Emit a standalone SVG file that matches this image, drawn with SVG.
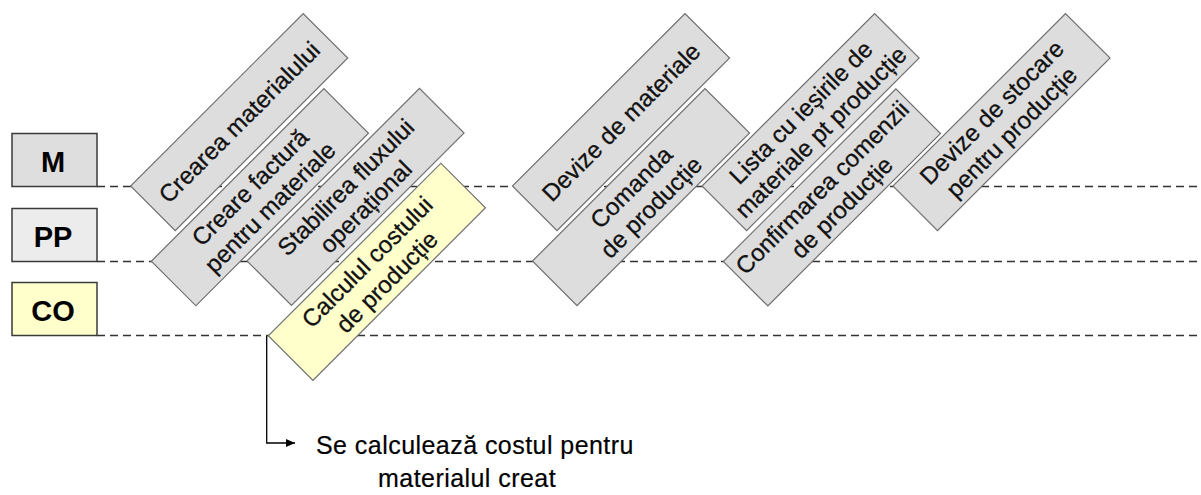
<svg xmlns="http://www.w3.org/2000/svg" width="1201" height="495" viewBox="0 0 1201 495">
<defs>
<style>
.lane{stroke:#3a3a3a;stroke-width:1.5}
.lt{font-family:"Liberation Sans",Arial,sans-serif;font-weight:bold;font-size:29px;fill:#000;text-anchor:middle}
.dash{stroke:#333;stroke-width:1.6;stroke-dasharray:8 5;fill:none}
.box{fill:#dddddd;stroke:#707070;stroke-width:1.2}
.ybox{fill:#ffffcc;stroke:#707070;stroke-width:1.2}
.bt{font-family:"Liberation Sans",Arial,sans-serif;font-size:24px;fill:#111;stroke:#111;stroke-width:0.3;text-anchor:middle}
.note{font-family:"Liberation Sans",Arial,sans-serif;font-size:25px;fill:#000;stroke:#000;stroke-width:0.2;letter-spacing:0.45px}
</style>
<marker id="arr" markerWidth="10" markerHeight="8" refX="9" refY="4" orient="auto" markerUnits="userSpaceOnUse"><path d="M0,0 L9,4 L0,8 z" fill="#000"/></marker>
</defs>
<rect width="1201" height="495" fill="#fff"/>
<g id="lanes">
<line class="dash" x1="97" y1="186.5" x2="1201" y2="186.5"/>
<line class="dash" x1="97" y1="261.5" x2="1201" y2="261.5"/>
<line class="dash" x1="97" y1="335.5" x2="1201" y2="335.5"/>
<g id="lane-M"><rect class="lane" x="12" y="133.5" width="85" height="53" fill="#dedede"/><text class="lt" x="53" y="172">M</text></g>
<g id="lane-PP"><rect class="lane" x="12" y="208.5" width="85" height="53" fill="#ececec"/><text class="lt" x="53" y="247">PP</text></g>
<g id="lane-CO"><rect class="lane" x="12" y="282.5" width="85" height="53" fill="#ffffcc"/><text class="lt" x="53" y="321">CO</text></g>
</g>
<g id="connectors">
<path d="M266.7,336 V443 H295" stroke="#000" stroke-width="1.3" fill="none" marker-end="url(#arr)"/>
</g>
<g id="n-crearea" transform="translate(239.2,122.1) rotate(-45)"><rect class="box" x="-122" y="-31.5" width="244" height="63"/><text class="bt" y="8.5">Crearea materialului</text></g>
<g id="n-factura" transform="translate(259.9,197.2) rotate(-45)"><rect class="box" x="-122" y="-31.5" width="244" height="63"/><text class="bt" y="-5.5">Creare factură</text><text class="bt" y="22.5">pentru materiale</text></g>
<g id="n-flux" transform="translate(355.5,196.9) rotate(-45)"><rect class="box" x="-122" y="-31.5" width="244" height="63"/><text class="bt" y="-5.5">Stabilirea fluxului</text><text class="bt" y="22.5">operațional</text></g>
<g id="n-calcul" transform="translate(376.9,271.8) rotate(-45)"><rect class="ybox" x="-122" y="-31.5" width="244" height="63"/><text class="bt" y="-5.5">Calculul costului</text><text class="bt" y="22.5">de producție</text></g>
<g id="n-devize-mat" transform="translate(621,122.1) rotate(-45)"><rect class="box" x="-122" y="-31.5" width="244" height="63"/><text class="bt" y="8.5">Devize de materiale</text></g>
<g id="n-comanda" transform="translate(641,197.1) rotate(-45)"><rect class="box" x="-122" y="-31.5" width="244" height="63"/><text class="bt" y="-5.5">Comanda</text><text class="bt" y="22.5">de producție</text></g>
<g id="n-lista" transform="translate(810.6,122.1) rotate(-45)"><rect class="box" x="-122" y="-31.5" width="244" height="63"/><text class="bt" y="-5.5">Lista cu ieșirile de</text><text class="bt" y="22.5">materiale pt producție</text></g>
<g id="n-confirmare" transform="translate(831.9,197.4) rotate(-45)"><rect class="box" x="-122" y="-31.5" width="244" height="63"/><text class="bt" y="-5.5">Confirmarea comenzii</text><text class="bt" y="22.5">de producție</text></g>
<g id="n-devize-stoc" transform="translate(1001.5,122.1) rotate(-45)"><rect class="box" x="-122" y="-31.5" width="244" height="63"/><text class="bt" y="-5.5">Devize de stocare</text><text class="bt" y="22.5">pentru producție</text></g>
<g id="note">
<text class="note" x="316" y="454">Se calculează costul pentru</text>
<text class="note" x="378" y="487">materialul creat</text>
</g>
</svg>
